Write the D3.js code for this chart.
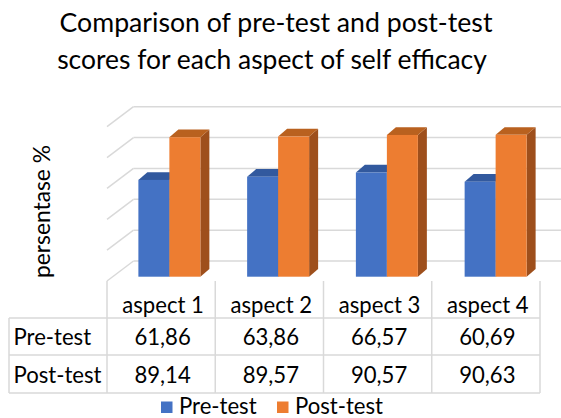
<!DOCTYPE html>
<html>
<head>
<meta charset="utf-8">
<script src="https://cdn.jsdelivr.net/npm/d3@7"></script>
<style>
  html, body { margin: 0; padding: 0; background: #fff; }
  svg { display: block; }
  text { font-family: Lato, "Open Sans", sans-serif; fill: #000; }
</style>
</head>
<body>
<svg id="chart" width="561" height="418"></svg>
<script>
const categories = ["aspect 1", "aspect 2", "aspect 3", "aspect 4"];
const series = ["Pre-test", "Post-test"];
const preTest = [61.86, 63.86, 66.57, 60.69];
const postTest = [89.14, 89.57, 90.57, 90.63];
const yTicks = [0, 20, 40, 60, 80, 100];
const titleLines = ["Comparison of pre-test and post-test", "scores for each aspect of self efficacy"];
const yLabel = "persentase %";

const colors = {
  "Pre-test": { front: "#4472C4", top: "#32599E", side: "#2F5597" },
  "Post-test": { front: "#ED7D31", top: "#B9611F", side: "#9E4F1C" }
};
const values = { "Pre-test": preTest, "Post-test": postTest };

const svg = d3.select("#chart");
const locale = d3.formatLocale({ decimal: ",", thousands: ".", grouping: [3], currency: ["", ""] });
const fmt = locale.format(".2f");

function fit(sel, target) {
  const w = sel.node().getComputedTextLength();
  const fs = parseFloat(sel.attr("font-size"));
  sel.attr("font-size", fs * target / w);
  return sel;
}

// Title
const tl1 = svg.append("text").attr("x", 276).attr("y", 31.5).attr("text-anchor", "middle")
  .attr("font-size", 24).text(titleLines[0]);
fit(tl1, 433);
const tl2 = svg.append("text").attr("x", 272).attr("y", 69).attr("text-anchor", "middle")
  .attr("font-size", 24).text(titleLines[1]);
fit(tl2, 430);

// Scales
const yBack = d3.scaleLinear().domain([0, 100]).range([261, 106.7]);
const yBar = d3.scaleLinear().domain([0, 100]).range([276.7, 120.2]);
const depth = { dx: 26.5, dy: 20 };
const wallX = 107;

const xTable = d3.scaleBand().domain(categories).range([107, 540]);
const xBar = d3.scaleBand().domain(categories).range([115, 550]).paddingInner(0.43).paddingOuter(0.215);
const xSeries = d3.scaleBand().domain(series).range([0, xBar.bandwidth()]);

const gridColor = "#d9d9d9";

// Back wall gridlines
const grid = svg.append("g");
grid.selectAll("line.h").data(yTicks).join("line")
  .attr("x1", wallX + depth.dx).attr("x2", 561)
  .attr("y1", d => yBack(d)).attr("y2", d => yBack(d))
  .attr("stroke", gridColor).attr("stroke-width", 1.5);
// Side wall diagonals
grid.selectAll("line.d").data(yTicks).join("line")
  .attr("x1", wallX).attr("y1", d => yBack(d) + depth.dy)
  .attr("x2", wallX + depth.dx).attr("y2", d => yBack(d))
  .attr("stroke", gridColor).attr("stroke-width", 1.5);

// Bars (3D)
const bdx = 9, bdy = -7.7;
series.forEach(s => {
  const g = svg.append("g");
  const data = categories.map((c, i) => ({ c, v: values[s][i] }));
  const x0 = d => xBar(d.c) + xSeries(s);
  const x1 = d => xBar(d.c) + xSeries(s) + xSeries.bandwidth();
  // side
  g.selectAll("path.side").data(data).join("path")
    .attr("d", d => `M${x1(d)},${yBar(d.v)} L${x1(d) + bdx},${yBar(d.v) + bdy} L${x1(d) + bdx},${yBar(0) + bdy} L${x1(d)},${yBar(0)} Z`)
    .attr("fill", colors[s].side);
  // top
  g.selectAll("path.top").data(data).join("path")
    .attr("d", d => `M${x0(d)},${yBar(d.v)} L${x0(d) + bdx},${yBar(d.v) + bdy} L${x1(d) + bdx},${yBar(d.v) + bdy} L${x1(d)},${yBar(d.v)} Z`)
    .attr("fill", colors[s].top);
  // front
  g.selectAll("rect").data(data).join("rect")
    .attr("x", x0).attr("y", d => yBar(d.v))
    .attr("width", xSeries.bandwidth()).attr("height", d => yBar(0) - yBar(d.v))
    .attr("fill", colors[s].front);
});

// Y label
const yl = svg.append("text").attr("transform", "translate(50,211.5) rotate(-90)")
  .attr("text-anchor", "middle").attr("font-size", 19).text(yLabel);
fit(yl, 133);

// Data table
const tableLeft = 9;
const rowLines = [318, 355, 393];
const tableTop = 281;
const tg = svg.append("g");
const colEdges = categories.map(c => xTable(c)).concat([xTable.range()[1]]);
tg.selectAll("line.v").data(colEdges).join("line")
  .attr("x1", d => d).attr("x2", d => d).attr("y1", tableTop).attr("y2", rowLines[2])
  .attr("stroke", gridColor).attr("stroke-width", 1.5);
tg.append("line").attr("x1", tableLeft).attr("x2", tableLeft).attr("y1", rowLines[0]).attr("y2", rowLines[2])
  .attr("stroke", gridColor).attr("stroke-width", 1.5);
tg.selectAll("line.h").data(rowLines).join("line")
  .attr("x1", tableLeft).attr("x2", xTable.range()[1]).attr("y1", d => d).attr("y2", d => d)
  .attr("stroke", gridColor).attr("stroke-width", 1.5);

// measure font size from "Post-test" width
const probe = svg.append("text").attr("font-size", 17).text("Post-test");
fit(probe, 88);
const fs = parseFloat(probe.attr("font-size"));
probe.remove();

tg.selectAll("text.hdr").data(categories).join("text")
  .attr("x", d => xTable(d) + xTable.bandwidth() / 2 + 2).attr("y", 313)
  .attr("text-anchor", "middle").attr("font-size", fs).text(d => d);

const rowBase = [344.5, 382.5];
series.forEach((s, r) => {
  tg.append("text").attr("x", 13.5).attr("y", rowBase[r]).attr("font-size", fs).text(s);
  tg.selectAll(null).data(values[s]).join("text")
    .attr("x", (d, i) => xTable(categories[i]) + xTable.bandwidth() / 2 + 1.5)
    .attr("y", rowBase[r]).attr("text-anchor", "middle").attr("font-size", fs)
    .text(d => fmt(d));
});

// Legend
const legX = [161, 277];
const lg = svg.append("g");
series.forEach((s, i) => {
  lg.append("rect").attr("x", legX[i]).attr("y", 401.5).attr("width", 11.5).attr("height", 11.5)
    .attr("fill", colors[s].front);
  lg.append("text").attr("x", legX[i] + 18).attr("y", 414).attr("font-size", fs).text(s);
});
</script>
</body>
</html>
